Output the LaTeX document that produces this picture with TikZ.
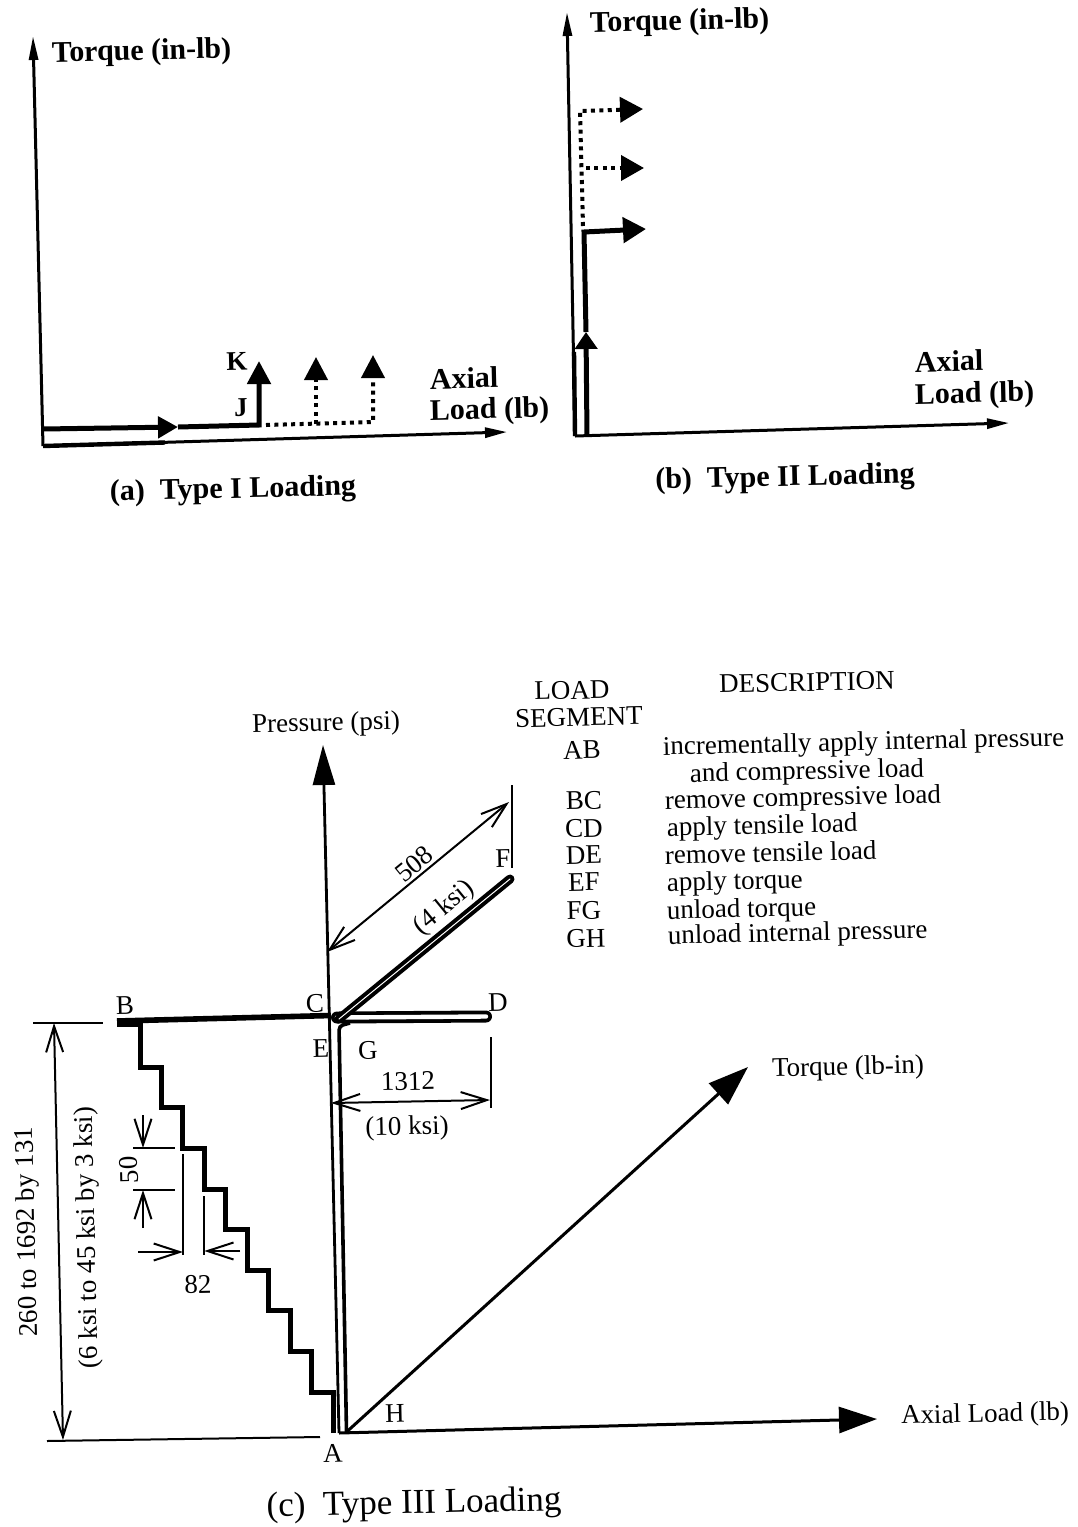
\documentclass[tikz,border=0pt]{standalone}
\usepackage{fontspec}
\setmainfont{Liberation Serif}
\usetikzlibrary{arrows.meta}
\begin{document}
\begin{tikzpicture}[x=0.5pt,y=-0.5pt,
  every node/.style={inner sep=0pt,outer sep=0pt,rotate=1.3},
  mytab/.style={font=\fontsize{15}{18}\selectfont\bfseries,text height=10pt,text depth=0pt},
  mykj/.style={font=\fontsize{13.5}{16}\selectfont\bfseries,text height=9pt,text depth=0pt},
  mytc/.style={font=\fontsize{13.5}{16}\selectfont,text height=9pt,text depth=0pt},
  mycapc/.style={font=\fontsize{17.5}{21}\selectfont,text height=11.6pt,text depth=0pt},
  myaxab/.style={line width=1.5pt},
  myaxc/.style={line width=1.4pt},
  myload/.style={line width=2.5pt,line join=miter},
  mydotp/.style={line width=2pt,dash pattern=on 2pt off 2.2pt},
  mydim/.style={line width=1pt},
  myslim/.style={-{Triangle[length=12pt,width=4.5pt]}},
  mybarbs/.style={{Straight Barb[length=13pt,width=8.5pt]}-{Straight Barb[length=13pt,width=8.5pt]}},
  mybarb/.style={-{Straight Barb[length=13pt,width=8.5pt]}},
  mytri/.style={-{Triangle[length=11.5pt,width=11.5pt]}}
]
\useasboundingbox (0,0) rectangle (1077,1527);

% ================= (a) Type I =================
\coordinate (aO) at (43,446);
\coordinate (aYT) at (33,36);
\coordinate (aXT) at (507,432);
\coordinate (aSB) at (165,442.5);
\draw[myaxab,myslim] (aO) -- (aYT);
\draw[myaxab,-{Triangle[length=11pt,width=5pt]}] (aO) -- (aXT);
\draw[line width=2.2pt] (aO) -- (aSB);
\coordinate (aS) at (43,429);
\coordinate (aM) at (178,427);
\coordinate (aJ) at (259,425);
\coordinate (aK) at (259,361);
\draw[myload,-{Triangle[length=10pt,width=10.5pt]}] (aS) -- (aM);
\draw[myload,mytri] (aM) -- (aJ) -- (aK);
\coordinate (aD0) at (266,425);
\coordinate (aD1) at (316,424);
\coordinate (aD2) at (373,422);
\coordinate (aT2) at (316,357);
\coordinate (aT3) at (373,355);
\draw[mydotp,mytri] (aD0) -- (aD2) -- (aT3);
\draw[mydotp,mytri] (aD1) -- (aT2);
\node[mytab,anchor=west] (aTq) at (52,52) {Torque (in-lb)};
\node[mykj] (aKl) at (237,361) {K};
\node[mykj] (aJl) at (241,407) {J};
\node[mytab,anchor=west] (aAx) at (430,379) {Axial};
\node[mytab,anchor=west] (aLd) at (430,410) {Load (lb)};
\node[mytab] (aCap) at (233,488) {(a)\enspace Type I Loading};

% ================= (b) Type II =================
\coordinate (bO) at (575,436);
\coordinate (bYT) at (567,12);
\coordinate (bXT) at (1009,423);
\coordinate (bSB) at (574,352);
\draw[myaxab,myslim] (bO) -- (bYT);
\draw[myaxab,-{Triangle[length=11pt,width=5pt]}] (bO) -- (bXT);
\draw[line width=2.2pt] (bO) -- (bSB);
\coordinate (bS) at (587,436);
\coordinate (bM) at (586,332);
\coordinate (bL) at (584,232);
\coordinate (bR1) at (646,229);
\draw[myload,-{Triangle[length=8.5pt,width=11pt]}] (bS) -- (bM);
\draw[myload,-{Triangle[length=11.5pt,width=12.5pt]}] (bM) -- (bL) -- (bR1);
\coordinate (bD0) at (583,226);
\coordinate (bD2) at (580,111);
\coordinate (bD1) at (586,168);
\coordinate (bR2) at (644,168);
\coordinate (bR3) at (643,109);
\draw[mydotp,-{Triangle[length=11.5pt,width=12.5pt]}] (bD0) -- (bD2) -- (bR3);
\draw[mydotp,-{Triangle[length=11.5pt,width=12.5pt]}] (bD1) -- (bR2);
\node[mytab,anchor=west] (bTq) at (590,22) {Torque (in-lb)};
\node[mytab,anchor=west] (bAx) at (915,362) {Axial};
\node[mytab,anchor=west] (bLd) at (915,394) {Load (lb)};
\node[mytab] (bCap) at (785,476) {(b)\enspace Type II Loading};

% ================= (c) Type III =================
\coordinate (A) at (333,1433);
\coordinate (pB) at (339,1433);
\coordinate (pT) at (323,745);
\coordinate (hE) at (877,1419);
\coordinate (H) at (346.5,1432);
\coordinate (tE) at (748,1067);
\coordinate (B) at (117,1021);
\coordinate (C) at (331,1015.5);
\coordinate (C1) at (337,1017.5);
\coordinate (D) at (486,1016.5);
\coordinate (E) at (339,1019);
\coordinate (F) at (510,879);
\coordinate (G) at (339,1026);

% staircase A -> B
\draw[myload] (A) -- (333,1392) -- (311.6,1392) -- (311.6,1351.4) -- (290.1,1351.4)
  -- (290.1,1310.8) -- (268.7,1310.8) -- (268.7,1270.2) -- (247.2,1270.2)
  -- (247.2,1229.6) -- (225.8,1229.6) -- (225.8,1189) -- (204.3,1189)
  -- (204.3,1148.4) -- (182.9,1148.4) -- (182.9,1107.8) -- (161.4,1107.8)
  -- (161.4,1067.2) -- (140,1067.2) -- (140,1021);
\fill (117,1018) rectangle (141,1027);
\draw[line width=2.8pt] (B) -- (C);
% C -> D -> E strip
\draw[line width=1.9pt,double distance=2.2pt,line cap=round] (C1) -- (D);
% pressure axis
\draw[myaxc,-{Triangle[length=20pt,width=11pt]}] (pB) -- (pT);
% E -> F -> G strip
\draw[line width=2pt,double distance=0.5pt,line cap=round] (E) -- (F);
% G -> H
\draw[line width=1.8pt,rounded corners=2pt] (350,1023) -- (G) -- (H);
% axial load axis and torque axis
\draw[line width=1.5pt,-{Triangle[length=19pt,width=13pt]}] (pB) -- (hE);
\draw[line width=1.5pt,-{Triangle[length=20pt,width=14pt]}] (H) -- (tE);

% dimension 508
\coordinate (d5a) at (327,952);
\coordinate (d5b) at (509,802);
\coordinate (d5t) at (511.5,785);
\coordinate (d5u) at (511.5,868);
\draw[mydim,mybarbs] (d5a) -- (d5b);
\draw[mydim] (d5t) -- (d5u);
\node[mytc,rotate=38] (l508) at (414,864) {508};
\node[mytc,rotate=38] (l4k) at (443,906) {(4 ksi)};

% dimension 1312
\coordinate (d1a) at (331,1103);
\coordinate (d1b) at (490,1100);
\coordinate (d1t) at (490.5,1037);
\coordinate (d1u) at (490.5,1108);
\draw[mydim,mybarbs] (d1a) -- (d1b);
\draw[mydim] (d1t) -- (d1u);
\node[mytc] (l1312) at (408,1081) {1312};
\node[mytc] (l10k) at (407,1126) {(10 ksi)};

% left overall dimension
\coordinate (dLt1) at (33,1023);
\coordinate (dLt2) at (103,1023);
\coordinate (dLb1) at (47,1441);
\coordinate (dLb2) at (320,1437);
\coordinate (dLa) at (54,1023);
\coordinate (dLb) at (63,1440);
\draw[mydim] (dLt1) -- (dLt2);
\draw[mydim] (dLb1) -- (dLb2);
\draw[mydim,mybarbs] (dLa) -- (dLb);
\node[mytc,rotate=90] (lrng) at (26,1232) {260 to 1692 by 131};
\node[mytc,rotate=90] (lksi) at (86,1238) {(6 ksi to 45 ksi by 3 ksi)};

% dimension 50
\coordinate (f1a) at (133,1148);
\coordinate (f1b) at (175,1148);
\coordinate (f2a) at (133,1190);
\coordinate (f2b) at (175,1190);
\coordinate (f3a) at (143,1115);
\coordinate (f3b) at (143,1148);
\coordinate (f4a) at (143,1228);
\coordinate (f4b) at (143,1190);
\draw[mydim] (f1a) -- (f1b);
\draw[mydim] (f2a) -- (f2b);
\draw[mydim,mybarb] (f3a) -- (f3b);
\draw[mydim,mybarb] (f4a) -- (f4b);
\node[mytc,rotate=90] (l50) at (129,1170) {50};

% dimension 82
\coordinate (e1a) at (182.9,1154);
\coordinate (e1b) at (182.9,1255);
\coordinate (e2a) at (204.3,1196);
\coordinate (e2b) at (204.3,1255);
\coordinate (e3a) at (138,1252);
\coordinate (e3b) at (182.9,1252);
\coordinate (e4a) at (240,1251);
\coordinate (e4b) at (204.3,1251);
\draw[mydim] (e1a) -- (e1b);
\draw[mydim] (e2a) -- (e2b);
\draw[mydim,mybarb] (e3a) -- (e3b);
\draw[mydim,mybarb] (e4a) -- (e4b);
\node[mytc] (l82) at (198,1284) {82};

% point labels
\node[mytc] (lB) at (125,1005) {B};
\node[mytc] (lC) at (315,1003) {C};
\node[mytc] (lD) at (498,1002) {D};
\node[mytc] (lE) at (321,1048) {E};
\node[mytc] (lG) at (368,1050) {G};
\node[mytc] (lF) at (503,858) {F};
\node[mytc] (lA) at (333,1453) {A};
\node[mytc] (lH) at (395,1413) {H};

% axis labels
\node[mytc] (lP) at (326,722) {Pressure (psi)};
\node[mytc] (lT) at (848,1066) {Torque (lb-in)};
\node[mytc] (lX) at (985,1413) {Axial Load (lb)};
\node[mycapc] (cCap) at (414,1502) {(c)\enspace Type III Loading};

% table
\node[mytc] (hLoad) at (572,690) {LOAD};
\node[mytc] (hSeg) at (579,717) {SEGMENT};
\node[mytc] (hDesc) at (807,682) {DESCRIPTION};
\node[mytc] (sAB) at (582,750) {AB};
\node[mytc] (sBC) at (584,800) {BC};
\node[mytc] (sCD) at (584,828) {CD};
\node[mytc] (sDE) at (584,855) {DE};
\node[mytc] (sEF) at (584,882) {EF};
\node[mytc] (sFG) at (584,910) {FG};
\node[mytc] (sGH) at (586,938) {GH};
\node[mytc,anchor=west] (tAB) at (663,746) {incrementally apply internal pressure};
\node[mytc,anchor=west] (tAB2) at (690,773) {and compressive load};
\node[mytc,anchor=west] (tBC) at (665,800) {remove compressive load};
\node[mytc,anchor=west] (tCD) at (667,827) {apply tensile load};
\node[mytc,anchor=west] (tDE) at (665,855) {remove tensile load};
\node[mytc,anchor=west] (tEF) at (667,882) {apply torque};
\node[mytc,anchor=west] (tFG) at (667,910) {unload torque};
\node[mytc,anchor=west] (tGH) at (668,935) {unload internal pressure};
\end{tikzpicture}
\end{document}
